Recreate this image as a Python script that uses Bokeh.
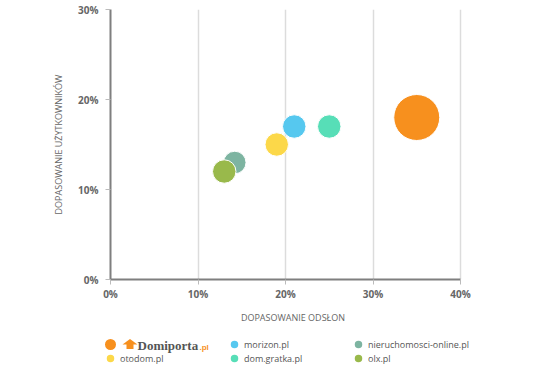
from bokeh.plotting import figure
from bokeh.layouts import column, row
from bokeh.models import Range1d, PrintfTickFormatter, ColumnDataSource
from bokeh.core.properties import value
from bokeh.embed import file_html
from bokeh.resources import INLINE
import math

# ---- data ----
sites = ["Domiporta.pl", "morizon.pl", "nieruchomosci-online.pl", "otodom.pl", "dom.gratka.pl", "olx.pl"]
views_match = [35, 21, 14.2, 19, 25, 13]     # DOPASOWANIE ODSŁON (%)
users_match = [18, 17, 13, 15, 17, 12]       # DOPASOWANIE UŻYTKOWNIKÓW (%)
bubble_value = [100, 26, 24, 26, 26, 26]     # bubble magnitude
colors = ["#F7901E", "#56C8EF", "#7DB4A1", "#FCD849", "#57DEB7", "#99B94B"]
x_ticks = [0, 10, 20, 30, 40]
y_ticks = [0, 10, 20, 30]
x_title = "DOPASOWANIE ODSŁON"
y_title = "DOPASOWANIE UŻYTKOWNIKÓW"

FONT = "Open Sans"
GRAY = "#666666"
W = 550
H_MAIN, H_LEG = 330, 47
X0_PX, X40_PX = 110, 460          # where 0% and 40% sit
FL, FR, FT, FB = 110, 475, 9, 279  # main frame edges (a bit wider on the right)
LL = 100                           # legend strip frame left

ppu = (X40_PX - X0_PX) / (x_ticks[-1] - x_ticks[0])
xr = Range1d(x_ticks[0], x_ticks[-1] + (FR - X40_PX) / ppu)

max_d = 46
sizes = [max_d * math.sqrt(v / max(bubble_value)) for v in bubble_value]
src = ColumnDataSource(dict(x=views_match, y=users_match, s=sizes, c=colors))

p = figure(width=W, height=H_MAIN, x_range=xr, y_range=Range1d(y_ticks[0], y_ticks[-1]),
           output_backend="svg", toolbar_location=None,
           min_border_left=FL, min_border_right=W - FR, min_border_top=FT,
           min_border_bottom=H_MAIN - FB)
p.outline_line_color = None
p.background_fill_color = "white"
p.border_fill_color = "white"

p.xaxis.ticker = x_ticks
p.yaxis.ticker = y_ticks
p.xaxis.bounds = (x_ticks[0], x_ticks[-1])
p.xgrid.ticker = x_ticks
p.xgrid.grid_line_color = "#dcdcdc"
p.xgrid.grid_line_width = 1.5
p.ygrid.grid_line_color = None

for ax in (p.xaxis, p.yaxis):
    ax.formatter = PrintfTickFormatter(format="%d%%")
    ax.axis_line_color = "#7f7f7f"
    ax.axis_line_width = 2
    ax.major_tick_line_color = "#bbbbbb"
    ax.major_tick_out = 5
    ax.major_tick_in = 0
    ax.minor_tick_line_color = None
    ax.major_label_text_font = FONT
    ax.major_label_text_font_style = "bold"
    ax.major_label_text_font_size = "10px"
    ax.major_label_text_color = GRAY
    ax.axis_label_text_font = FONT
    ax.axis_label_text_font_style = "normal"
    ax.axis_label_text_font_size = "9px"
    ax.axis_label_text_color = GRAY

p.xaxis.axis_label = x_title
p.yaxis.axis_label = y_title
p.xaxis.major_label_standoff = 2
p.xaxis.axis_label_standoff = 7
p.yaxis.major_label_standoff = 7
p.yaxis.axis_label_standoff = 10

p.scatter("x", "y", size="s", fill_color="c", line_color="white", line_width=1,
          fill_alpha=1, source=src)

# ---- legend strip (coordinates = page pixels) ----
lg = figure(width=W, height=H_LEG, x_range=Range1d(LL, FR),
            y_range=Range1d(H_MAIN + H_LEG, H_MAIN),
            output_backend="svg", toolbar_location=None,
            min_border_left=LL, min_border_right=W - FR, min_border_top=0, min_border_bottom=0,
            x_axis_type=None, y_axis_type=None)
lg.outline_line_color = None
lg.xgrid.visible = False
lg.ygrid.visible = False
lg.background_fill_color = "white"
lg.border_fill_color = "white"

col_x = [110, 234, 358]    # marker centres
row_y = [344, 358]         # row centres
mx = [col_x[i % 3] for i in range(len(sites))]
my = [row_y[i // 3] for i in range(len(sites))]
ms = [11 if i == 0 else 7.5 for i in range(len(sites))]
lg.scatter(mx, my, size=ms, fill_color=colors, line_color=None)

lab = sites[1:]
lg.text([x + 9.5 for x in mx[1:]], my[1:], text=lab, text_font=value(FONT), text_font_size="9px",
        text_color="#555555", text_baseline="middle", text_align="left")

# Domiporta logo-like entry: little house, name, ".pl"
lg.patch([122, 129.5, 137], [344, 338.5, 344], fill_color=colors[0], line_color=None)
lg.quad(left=[126], right=[133], top=[343], bottom=[348.5], fill_color=colors[0], line_color=None)
lg.text([137], [344.5], text=["Domiporta"], text_font=value("Liberation Serif"),
        text_font_style="bold", text_font_size="13px", text_color="#555555",
        text_baseline="middle", text_align="left")
lg.text([199], [346.5], text=[".pl"], text_font=value("Liberation Sans"),
        text_font_style="bold", text_font_size="8px", text_color=colors[0],
        text_baseline="middle", text_align="left")

layout = column(p, row(lg), spacing=0)
open("out.html", "w").write(file_html(layout, INLINE))
